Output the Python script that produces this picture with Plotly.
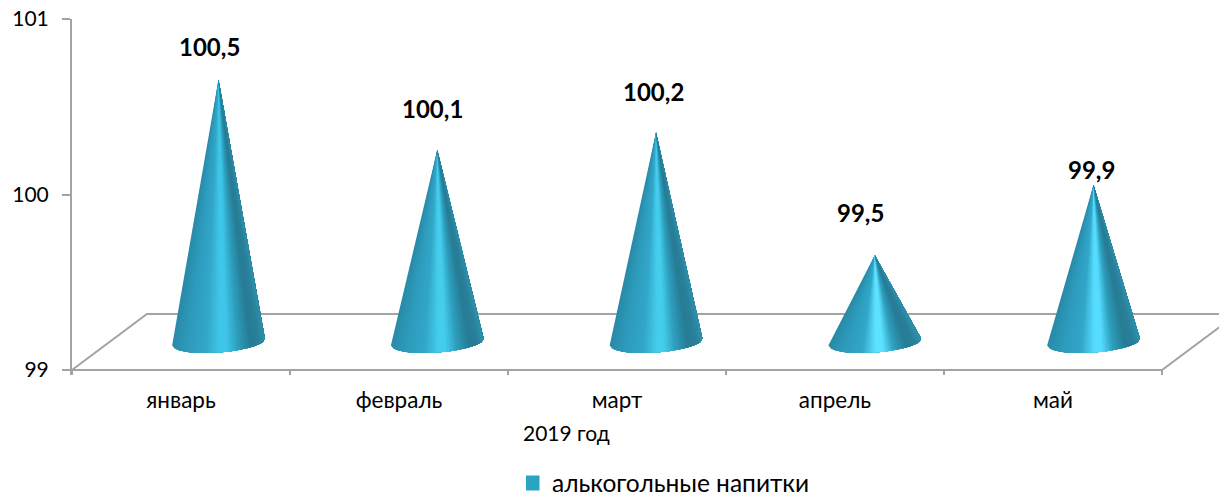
import numpy as np
import plotly.graph_objects as go

months = ["январь", "февраль", "март", "апрель", "май"]
values = [100.5, 100.1, 100.2, 99.5, 99.9]
y_ticks = [99, 100, 101]
series_name = "алькогольные напитки"
axis_title = "2019 год"
label_dx = [-9, -5, -3, -14, -2]
label_dy = [33, 41, 41, 43, 16]
highlights = ["#3fc6e8", "#45cdec", "#45cdec", "#5de2ff", "#56dcff"]

FONT = "Lato, Carlito, 'Noto Sans', sans-serif"
W, H = 1219, 493
L, T = 72, 19
PX_X, PX_Y = 218.0, 175.5
CONE_STEP = 218.75 / PX_X
LINE = "#a3a3a3"
DEPTH_X, DEPTH_Y = 75 / PX_X, 56 / PX_Y
RIGHT = (W - L) / PX_X
BOTTOM = 99 - 5 / PX_Y


def hex_rgb(c):
    return np.array([int(c[i:i + 2], 16) for i in (1, 3, 5)], float)


def shade(f, hi):
    stops = [0, .14, .36, .5, .58, .7, .84, .93, 1]
    cols = ["#2a8aa8", "#2d9abb", "#33a8ca", hi, hi, "#2e9fbe", "#277d95", "#2a7f99", "#2e92ae"]
    arr = np.array([hex_rgb(c) for c in cols])
    rgb = [np.interp(f, stops, arr[:, k]) for k in range(3)]
    return "rgb(%d,%d,%d)" % tuple(rgb)


fig = go.Figure()

# floor
fx = [0, DEPTH_X, RIGHT, None, 0, 5, 5 + DEPTH_X, None]
fy = [99, 99 + DEPTH_Y, 99 + DEPTH_Y, None, 99, 99, 99 + DEPTH_Y, None]
for i in range(6):
    fx += [i, i, None]
    fy += [99, BOTTOM, None]
fig.add_trace(go.Scatter(x=fx, y=fy, mode="lines", line=dict(color=LINE, width=2),
                         showlegend=False, hoverinfo="skip"))

# cones
TILT = np.deg2rad(4.3)
N = 40
centers = [i * CONE_STEP + 0.5 + DEPTH_X / 2 for i in range(len(values))]
tips = [v + DEPTH_Y / 2 - 1 / PX_Y for v in values]
for i, v in enumerate(values):
    cx = centers[i]
    cy = 99 + DEPTH_Y / 2
    f = np.linspace(0, 1, N + 1)
    t = np.arccos(1 - 2 * f)
    ax = -np.cos(t) * 46.5
    by = np.sin(t) * 10.5
    px = ax * np.cos(TILT) + by * np.sin(TILT)
    py = -ax * np.sin(TILT) + by * np.cos(TILT)
    bx = cx + px / PX_X
    byv = cy - py / PX_Y
    tip = tips[i]
    for k in range(N):
        fig.add_trace(go.Scatter(
            x=[cx] + list(bx[k:]) + [cx], y=[tip] + list(byv[k:]) + [tip],
            mode="lines", fill="toself", fillcolor=shade((k + .5) / N, highlights[i]),
            line=dict(width=0), showlegend=False, hoverinfo="skip"))

# legend entry
fig.add_trace(go.Scatter(x=[None], y=[None], mode="markers", name=series_name,
                         marker=dict(symbol="square", size=15, color="#2ba3c3")))

annotations = [dict(x=centers[i], y=tips[i],
                    text="<b>" + f"{v:.1f}".replace(".", ",") + "</b>",
                    showarrow=False, xshift=label_dx[i], yshift=label_dy[i],
                    font=dict(family=FONT, size=24, color="#000000"))
               for i, v in enumerate(values)]
annotations.append(dict(xref="paper", yref="paper", x=(566 - L) / (W - L), y=-(432 - 375) / (375 - T),
                        yanchor="middle", text=axis_title, showarrow=False,
                        font=dict(family=FONT, size=21, color="#000000")))

fig.update_layout(
    width=W, height=H, autosize=False,
    margin=dict(l=L, r=0, t=T, b=H - 375, pad=0, autoexpand=False),
    paper_bgcolor="white", plot_bgcolor="white",
    font=dict(family=FONT, size=22, color="#000000"),
    xaxis=dict(range=[0, RIGHT], tickvals=[i + .5 for i in range(5)], ticktext=months,
               showgrid=False, zeroline=False, showline=False, ticks="outside", ticklen=5,
               tickcolor="rgba(0,0,0,0)", tickfont=dict(family=FONT, size=22.5)),
    yaxis=dict(range=[BOTTOM, 101], tickvals=y_ticks, showgrid=False, zeroline=False, showline=True,
               linecolor=LINE, linewidth=2, ticks="outside", ticklen=8, tickcolor=LINE, tickwidth=2,
               ticklabelstandoff=9, tickfont=dict(family=FONT, size=21)),
    legend=dict(orientation="h", x=(526 - L) / (W - L), y=-(483 - 375) / (375 - T), yanchor="middle",
                xanchor="left", font=dict(family=FONT, size=24.5), itemwidth=30, indentation=-14,
                bgcolor="rgba(0,0,0,0)"),
    annotations=annotations,
    showlegend=True,
)

fig.write_html("out.html", config=dict(displayModeBar=False),
               post_script="document.body.style.margin='0';")
